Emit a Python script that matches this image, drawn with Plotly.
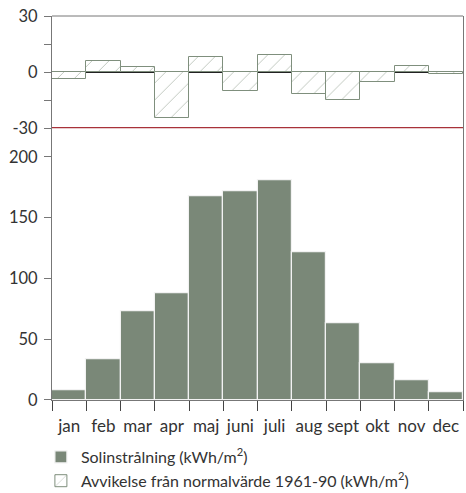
import plotly.graph_objects as go
from plotly.subplots import make_subplots

months = ["jan", "feb", "mar", "apr", "maj", "juni", "juli", "aug", "sept", "okt", "nov", "dec"]
solinstralning = [8, 34, 73.5, 88, 168, 172, 181, 121.5, 63, 30.5, 16.5, 6.5]
avvikelse = [-3.5, 5.7, 2.7, -24.5, 8, -10.3, 8.9, -11.7, -15.1, -5.3, 3.2, -1.1]
top_ticks = [-30, 0, 30]
top_ticktext = ["-30", "0", "30"]
bottom_ticks = [0, 50, 100, 150, 200]

name_sol = "Solinstrålning (kWh/m<sup>2</sup>)"
name_avv = "Avvikelse från normalvärde 1961-90 (kWh/m<sup>2</sup>)"

bar_color = "#7a8878"
hatch_color = "#7f8f7d"
text_color = "#333333"
axis_color = "#777777"
font_family = "Lato"

fig = make_subplots(rows=2, cols=1, shared_xaxes=True, vertical_spacing=0,
                    row_heights=[0.292, 0.708])

fig.add_trace(go.Bar(x=months, y=solinstralning, name=name_sol,
                     marker=dict(color=bar_color, line=dict(color="#f2f2f2", width=1.2))),
              row=2, col=1)
fig.add_trace(go.Bar(x=months, y=avvikelse, name=name_avv,
                     marker=dict(color="white",
                                 line=dict(color=hatch_color, width=1),
                                 pattern=dict(shape="/", fgcolor=hatch_color, bgcolor="white",
                                              size=12, solidity=0.08))),
              row=1, col=1)

fig.update_layout(
    width=466, height=493,
    margin=dict(l=52, r=3, t=16, b=93),
    paper_bgcolor="white", plot_bgcolor="white",
    bargap=0,
    font=dict(family=font_family, size=16.5, color=text_color),
    showlegend=True,
    legend=dict(x=-0.027, xref="paper", y=0.1075, yref="container",
                xanchor="left", yanchor="top",
                font=dict(family=font_family, size=16, color=text_color), tracegroupgap=0,
                itemwidth=30, bgcolor="rgba(0,0,0,0)"),
)

fig.update_yaxes(row=1, col=1, range=[-30, 30], tickvals=top_ticks, ticktext=top_ticktext,
                 ticks="outside", ticklen=7, tickcolor=axis_color, automargin=False,
                 ticklabelstandoff=3,
                 showline=True, linecolor=axis_color, linewidth=1, mirror=True,
                 showgrid=False, zeroline=True, zerolinecolor="#222222", zerolinewidth=1,
                 minor=dict(tickvals=[-15, 15], ticks="outside", ticklen=7, tickcolor=axis_color))
fig.update_yaxes(row=2, col=1, range=[0, 223.7], tickvals=bottom_ticks,
                 ticks="outside", ticklen=7, tickcolor=axis_color, automargin=False,
                 ticklabelstandoff=3,
                 showline=True, linecolor=axis_color, linewidth=1, mirror=True,
                 showgrid=False, zeroline=False)
fig.update_xaxes(row=1, col=1, showline=False, ticks="", showticklabels=False, showgrid=False)
fig.update_xaxes(row=2, col=1, showline=True, linecolor=axis_color, linewidth=1,
                 tickson="boundaries", ticks="outside", ticklen=10, tickcolor="#444444",
                 showgrid=False, tickangle=0, automargin=False, ticklabelstandoff=11,
                 tickfont=dict(family=font_family, size=17))

# top frame line and red divider at -30
fig.add_shape(type="line", xref="paper", yref="paper", x0=0, x1=1, y0=1, y1=1,
              line=dict(color=axis_color, width=1))
fig.add_shape(type="line", xref="x domain", yref="y", x0=0, x1=1, y0=-30, y1=-30,
              line=dict(color="#a8323a", width=2.5), row=1, col=1)

# pin the figure to the window's top-left corner so it fills the window exactly
post = ("document.body.style.margin='0px';"
        "document.body.style.overflow='hidden';"
        "var gd=document.getElementById('{plot_id}');"
        "gd.style.position='fixed';gd.style.top='0px';gd.style.left='0px';")
fig.write_html("out.html", post_script=post, config={"displayModeBar": False})
